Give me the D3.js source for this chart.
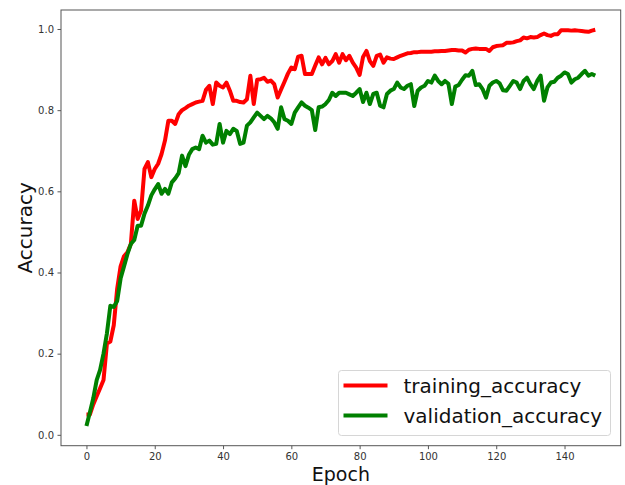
<!DOCTYPE html>
<html>
<head>
<meta charset="utf-8">
<script src="https://cdn.jsdelivr.net/npm/d3@7"></script>
<style>
  html, body { margin: 0; padding: 0; background: #fff; }
  svg { display: block; font-family: "DejaVu Sans", sans-serif; }
</style>
</head>
<body>
<svg id="chart" width="625" height="485"></svg>
<script>
// ---- data ----
const seriesNames = ["training_accuracy", "validation_accuracy"];
const seriesColors = ["#ff0000", "#008000"];
const xTicks = [0, 20, 40, 60, 80, 100, 120, 140];
const yTicks = [0.0, 0.2, 0.4, 0.6, 0.8, 1.0];

const trainingAccuracy = [
  0.05, 0.05, 0.075, 0.095, 0.115, 0.135, 0.225, 0.23, 0.27, 0.36,
  0.415, 0.44, 0.45, 0.47, 0.577, 0.532, 0.553, 0.655, 0.672, 0.635,
  0.655, 0.668, 0.692, 0.725, 0.774, 0.774, 0.766, 0.79, 0.80, 0.805,
  0.811, 0.815, 0.819, 0.821, 0.823, 0.85, 0.86, 0.815, 0.868, 0.86,
  0.856, 0.868, 0.848, 0.823, 0.823, 0.82, 0.819, 0.827, 0.885, 0.815,
  0.875, 0.876, 0.88, 0.87, 0.873, 0.864, 0.831, 0.851, 0.87, 0.89,
  0.905, 0.901, 0.932, 0.934, 0.889, 0.889, 0.889, 0.91, 0.93, 0.913,
  0.929, 0.913, 0.921, 0.938, 0.917, 0.938, 0.923, 0.934, 0.917, 0.905,
  0.887, 0.931, 0.946, 0.921, 0.909, 0.934, 0.937, 0.917, 0.93, 0.927,
  0.926, 0.93, 0.934, 0.937, 0.94, 0.941, 0.943, 0.943, 0.944, 0.944,
  0.944, 0.944, 0.945, 0.945, 0.946, 0.946, 0.947, 0.948, 0.948, 0.947,
  0.947, 0.942, 0.949, 0.951, 0.952, 0.951, 0.951, 0.951, 0.946, 0.955,
  0.958, 0.959, 0.96, 0.966, 0.966, 0.967, 0.97, 0.972, 0.979, 0.977,
  0.98, 0.979, 0.98, 0.985, 0.989, 0.985, 0.983, 0.987, 0.987, 0.997,
  0.997, 0.997, 0.996, 0.997, 0.996, 0.995, 0.994, 0.993, 0.996, 0.998
];

const validationAccuracy = [
  0.022, 0.055, 0.09, 0.135, 0.16, 0.2, 0.25, 0.318, 0.315, 0.33,
  0.385, 0.415, 0.445, 0.47, 0.48, 0.515, 0.515, 0.545, 0.565, 0.59,
  0.605, 0.618, 0.594, 0.606, 0.594, 0.622, 0.632, 0.645, 0.688, 0.662,
  0.69, 0.704, 0.708, 0.704, 0.737, 0.72, 0.725, 0.715, 0.717, 0.766,
  0.72, 0.749, 0.741, 0.754, 0.749, 0.717, 0.72, 0.762, 0.77, 0.782,
  0.794, 0.786, 0.778, 0.786, 0.78, 0.77, 0.754, 0.807, 0.778, 0.774,
  0.766, 0.794, 0.807, 0.819, 0.811, 0.806, 0.8, 0.751, 0.807, 0.809,
  0.815, 0.825, 0.843, 0.835, 0.843, 0.843, 0.843, 0.839, 0.835, 0.843,
  0.852, 0.82, 0.843, 0.815, 0.84, 0.843, 0.811, 0.807, 0.84, 0.848,
  0.852, 0.868, 0.856, 0.852, 0.86, 0.864, 0.81, 0.848, 0.856, 0.86,
  0.872, 0.868, 0.885, 0.872, 0.864, 0.872, 0.865, 0.815, 0.858, 0.862,
  0.875, 0.886, 0.885, 0.897, 0.862, 0.864, 0.852, 0.831, 0.86, 0.868,
  0.872, 0.866, 0.849, 0.848, 0.86, 0.872, 0.868, 0.852, 0.872, 0.88,
  0.864, 0.852, 0.872, 0.885, 0.823, 0.856, 0.868, 0.87, 0.88, 0.885,
  0.893, 0.889, 0.868, 0.876, 0.88, 0.889, 0.897, 0.885, 0.889, 0.885
];

const epochs = d3.range(trainingAccuracy.length);
const allSeries = [trainingAccuracy, validationAccuracy];

// ---- layout ----
const svg = d3.select("#chart");
const plotLeft = 61, plotRight = 620.7, plotTop = 10, plotBottom = 445.7;

const xMin = 0, xMax = epochs.length - 1;
const xPad = (xMax - xMin) * 0.05;
const x = d3.scaleLinear().domain([xMin - xPad, xMax + xPad]).range([plotLeft, plotRight]);

const allVals = trainingAccuracy.concat(validationAccuracy);
const yLo = d3.min(allVals), yHi = d3.max(allVals);
const yPad = (yHi - yLo) * 0.05;
const y = d3.scaleLinear().domain([yLo - yPad, yHi + yPad]).range([plotBottom, plotTop]);

// axes
const xAxis = d3.axisBottom(x).tickValues(xTicks).tickSize(3.5).tickPadding(3.5).tickFormat(d3.format("d"));
const yAxis = d3.axisLeft(y).tickValues(yTicks).tickSize(3.5).tickPadding(3.5).tickFormat(d3.format(".1f"));

const gx = svg.append("g").attr("transform", `translate(0,${plotBottom})`).call(xAxis);
const gy = svg.append("g").attr("transform", `translate(${plotLeft},0)`).call(yAxis);
[gx, gy].forEach(g => {
  g.select(".domain").remove();
  g.selectAll(".tick line").attr("stroke", "#444").attr("stroke-width", 0.9);
  g.selectAll(".tick text").attr("fill", "#333").style("font-size", "10px").style("font-family", "DejaVu Sans, sans-serif");
});

// lines
const line = d3.line().x((d, i) => x(epochs[i])).y(d => y(d));
svg.append("g").selectAll("path").data(allSeries).join("path")
  .attr("d", d => line(d))
  .attr("fill", "none")
  .attr("stroke", (d, i) => seriesColors[i])
  .attr("stroke-width", 4)
  .attr("stroke-linejoin", "round")
  .attr("stroke-linecap", "butt");

// frame
svg.append("rect")
  .attr("x", plotLeft).attr("y", plotTop)
  .attr("width", plotRight - plotLeft).attr("height", plotBottom - plotTop)
  .attr("fill", "none").attr("stroke", "#555").attr("stroke-width", 1);

// axis labels
svg.append("text").attr("x", (plotLeft + plotRight) / 2).attr("y", 480.5)
  .attr("text-anchor", "middle").attr("fill", "#111")
  .style("font-size", "19px").text("Epoch");
svg.append("text")
  .attr("transform", `translate(32,${(plotTop + plotBottom) / 2}) rotate(-90)`)
  .attr("text-anchor", "middle").attr("fill", "#111")
  .style("font-size", "20px").text("Accuracy");

// legend
const lg = svg.append("g");
lg.append("rect").attr("x", 338.5).attr("y", 370.5).attr("width", 272).attr("height", 65)
  .attr("rx", 3).attr("fill", "#fff").attr("fill-opacity", 0.8)
  .attr("stroke", "#d6d6d6").attr("stroke-width", 1);
seriesNames.forEach((name, i) => {
  const cy = 385.5 + i * 30;
  lg.append("line").attr("x1", 343.5).attr("x2", 387.5).attr("y1", cy).attr("y2", cy)
    .attr("stroke", seriesColors[i]).attr("stroke-width", 4);
  lg.append("text").attr("x", 403.5).attr("y", cy + 7).attr("fill", "#111")
    .style("font-size", "20px").text(name);
});
</script>
</body>
</html>
